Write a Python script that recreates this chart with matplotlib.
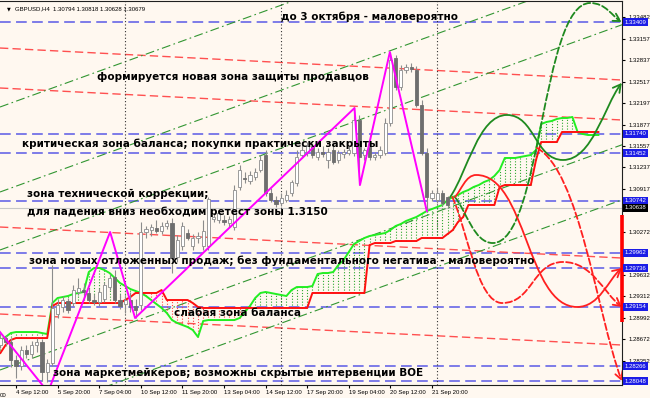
import numpy as np
import matplotlib
matplotlib.use('Agg')
import matplotlib.pyplot as plt
from matplotlib.path import Path
from matplotlib.patches import FancyArrowPatch

# GBPUSD H4, bar index 0 = 4 Sep 12:00
first_bar = -3
opens = [1.28586, 1.28690, 1.28631, 1.28362, 1.28273, 1.28511, 1.28452, 1.28586, 1.28631, 1.28183,
         1.28317, 1.29049, 1.29154, 1.29243, 1.29213, 1.29378, 1.29407, 1.29363, 1.29258, 1.29228,
         1.29273, 1.29452, 1.29602, 1.29258, 1.29198, 1.29258, 1.29169, 1.29183, 1.30274, 1.30303,
         1.30333, 1.30289, 1.30363, 1.30408, 1.29900, 1.30065, 1.30259, 1.30065, 1.30184, 1.30065,
         1.30065, 1.30468, 1.30453, 1.30453, 1.30408, 1.30348, 1.30946, 1.31080, 1.31035, 1.31095,
         1.31199, 1.31423, 1.30856, 1.30751, 1.30707, 1.30751, 1.30856, 1.31005, 1.31423, 1.31468,
         1.31558, 1.31394, 1.31468, 1.31349, 1.31498, 1.31349, 1.31438, 1.31453, 1.31453, 1.31946,
         1.31423, 1.31543, 1.31394, 1.31423, 1.31453, 1.31901, 1.32872, 1.32439, 1.32693, 1.32738,
         1.32693, 1.32170, 1.31453, 1.30781, 1.30751, 1.30856, 1.30794]
highs = [1.28765, 1.28735, 1.28690, 1.28437, 1.28571, 1.28586, 1.28646, 1.28690, 1.28676, 1.28377,
         1.29781, 1.29258, 1.29318, 1.29288, 1.29482, 1.29587, 1.29512, 1.29437, 1.29348, 1.29437,
         1.29527, 1.29646, 1.29706, 1.29348, 1.29318, 1.29378, 1.29273, 1.30423, 1.30363, 1.30393,
         1.30453, 1.30423, 1.30453, 1.30483, 1.30229, 1.30423, 1.30318, 1.30244, 1.30274, 1.30453,
         1.30796, 1.30557, 1.30602, 1.30527, 1.30513, 1.30975, 1.31274, 1.31170, 1.31185, 1.31229,
         1.31423, 1.31498, 1.30931, 1.30811, 1.30856, 1.30901, 1.31050, 1.31498, 1.31573, 1.31617,
         1.31603, 1.31528, 1.31558, 1.31528, 1.31558, 1.31498, 1.31513, 1.31558, 1.32140, 1.32021,
         1.31528, 1.31588, 1.31468, 1.31558, 1.31976, 1.32962, 1.32917, 1.32767, 1.32782, 1.32797,
         1.32752, 1.32245, 1.31528, 1.30901, 1.30931, 1.30901, 1.30818]
lows = [1.28541, 1.28571, 1.28258, 1.28093, 1.28213, 1.28392, 1.28392, 1.28482, 1.28049, 1.28034,
        1.28273, 1.28989, 1.29079, 1.29064, 1.29169, 1.29333, 1.29318, 1.29213, 1.29183, 1.29169,
        1.29228, 1.29407, 1.29213, 1.29124, 1.29064, 1.29079, 1.28989, 1.29109, 1.30184, 1.30214,
        1.30259, 1.30244, 1.30318, 1.29661, 1.29826, 1.30005, 1.30154, 1.30005, 1.30109, 1.30005,
        1.30005, 1.30423, 1.30408, 1.30378, 1.30348, 1.30303, 1.30901, 1.31005, 1.30990, 1.31050,
        1.31170, 1.30811, 1.30722, 1.30647, 1.30662, 1.30722, 1.30811, 1.30961, 1.31379, 1.31409,
        1.31379, 1.31349, 1.31394, 1.31229, 1.31289, 1.31304, 1.31379, 1.31423, 1.31409, 1.30975,
        1.31349, 1.31349, 1.31349, 1.31379, 1.31423, 1.31856, 1.32394, 1.32394, 1.32648, 1.32663,
        1.32140, 1.31423, 1.30572, 1.30737, 1.30707, 1.30662, 1.30628]
closes = [1.28690, 1.28631, 1.28362, 1.28273, 1.28511, 1.28452, 1.28586, 1.28631, 1.28183, 1.28317,
          1.29139, 1.29183, 1.29258, 1.29109, 1.29407, 1.29437, 1.29378, 1.29258, 1.29228, 1.29378,
          1.29482, 1.29587, 1.29258, 1.29169, 1.29258, 1.29154, 1.29109, 1.30274, 1.30318, 1.30348,
          1.30289, 1.30363, 1.30408, 1.29885, 1.30154, 1.30363, 1.30184, 1.30184, 1.30214, 1.30289,
          1.30766, 1.30498, 1.30557, 1.30423, 1.30468, 1.30901, 1.31199, 1.31065, 1.31125, 1.31170,
          1.31349, 1.30856, 1.30751, 1.30692, 1.30781, 1.30826, 1.31020, 1.31394, 1.31498, 1.31558,
          1.31423, 1.31468, 1.31438, 1.31468, 1.31319, 1.31453, 1.31468, 1.31498, 1.31946, 1.31394,
          1.31498, 1.31394, 1.31423, 1.31498, 1.31901, 1.32842, 1.32439, 1.32693, 1.32738, 1.32708,
          1.32170, 1.31453, 1.30796, 1.30856, 1.30856, 1.30707, 1.30679]

# ichimoku cloud lines (shifted forward), bars -3 .. 112
span_a = [1.28661, 1.28706, 1.28765, 1.28780, 1.28780, 1.28780, 1.28780, 1.28780, 1.28765, 1.28750,
          1.29213, 1.29288, 1.29303, 1.29318, 1.29348, 1.29363, 1.29378, 1.29676, 1.29736, 1.29736,
          1.29706, 1.29661, 1.29587, 1.29512, 1.29467, 1.29422, 1.29393, 1.29363, 1.29318, 1.29258,
          1.29198, 1.29139, 1.29064, 1.28959, 1.28915, 1.28885, 1.28855, 1.28810, 1.28706, 1.28945,
          1.28959, 1.28959, 1.28959, 1.28959, 1.28959, 1.28959, 1.28989, 1.29079, 1.29169, 1.29288,
          1.29363, 1.29378, 1.29363, 1.29348, 1.29333, 1.29318, 1.29407, 1.29452, 1.29452, 1.29452,
          1.29467, 1.29646, 1.29661, 1.29661, 1.29676, 1.29781, 1.29855, 1.29975, 1.30094, 1.30139,
          1.30184, 1.30214, 1.30229, 1.30244, 1.30259, 1.30303, 1.30363, 1.30393, 1.30438, 1.30468,
          1.30498, 1.30542, 1.30587, 1.30617, 1.30647, 1.30677, 1.30751, 1.30796, 1.30826, 1.30871,
          1.30901, 1.30946, 1.30975, 1.31020, 1.31050, 1.31110, 1.31199, 1.31379, 1.31379, 1.31379,
          1.31394, 1.31409, 1.31423, 1.31498, 1.31886, 1.31916, 1.31931, 1.31961, 1.31976, 1.31976,
          1.31991, 1.31767, 1.31737, 1.31722, 1.31722, 1.31722]
span_b = [1.28467, 1.28586, 1.28661, 1.28690, 1.28690, 1.28690, 1.28690, 1.28690, 1.28690, 1.28690,
          1.29169, 1.29213, 1.29213, 1.29213, 1.29213, 1.29213, 1.29213, 1.29213, 1.29213, 1.29213,
          1.29213, 1.29213, 1.29213, 1.29213, 1.29258, 1.29303, 1.29363, 1.29363, 1.29363, 1.29363,
          1.29363, 1.29407, 1.29258, 1.29258, 1.29258, 1.29258, 1.29258, 1.29213, 1.29154, 1.29139,
          1.29139, 1.29139, 1.29139, 1.29139, 1.29139, 1.29139, 1.29139, 1.29139, 1.29139, 1.29139,
          1.29139, 1.29139, 1.29139, 1.29139, 1.29139, 1.29139, 1.29139, 1.29139, 1.29139, 1.29139,
          1.29363, 1.29363, 1.29363, 1.29363, 1.29363, 1.29363, 1.29363, 1.29363, 1.29363, 1.29363,
          1.29363, 1.30079, 1.30109, 1.30109, 1.30109, 1.30109, 1.30139, 1.30139, 1.30139, 1.30139,
          1.30139, 1.30184, 1.30184, 1.30184, 1.30184, 1.30184, 1.30244, 1.30303, 1.30423, 1.30498,
          1.30677, 1.30677, 1.30677, 1.30677, 1.30677, 1.30677, 1.30946, 1.30975, 1.30975, 1.30975,
          1.30975, 1.30975, 1.30975, 1.31349, 1.31617, 1.31617, 1.31617, 1.31617, 1.31767, 1.31767,
          1.31767, 1.31767, 1.31767, 1.31767, 1.31767, 1.31767]

zigzag_bar = [-3.08, 6.15, 18.1, 22.9, 65.1, 66.15, 71.9, 79.0]
zigzag_price = [1.28780, 1.27884, 1.30274, 1.28989, 1.32125, 1.30975, 1.32961, 1.30587]

blue_levels = [1.33409, 1.31740, 1.31452, 1.30742, 1.29962, 1.29736, 1.29154, 1.28266, 1.28048]
bid_price = 1.30638

# sloping lines, price at left edge and at right edge of the chart
red_left = [1.33021, 1.32424, 1.30348, 1.29049]
red_right = [1.32543, 1.31946, 1.29885, 1.28586]
chan_left = [1.32140, 1.30871, 1.30005, 1.28213, 1.27392]
chan_right = [1.35503, 1.34234, 1.33368, 1.31576, 1.30754]

# forecast scenarios: key points (bar, price)
green_solid_bar = [83.5, 94.4, 105.2, 116.5]
green_solid_price = [1.30796, 1.32021, 1.31349, 1.32500]
green_dash_bar = [84.4, 91.7, 110.4, 116.5]
green_dash_price = [1.30796, 1.30109, 1.33693, 1.33409]
red_solid_bar = [84.4, 88.5, 107.9, 116.5]
red_solid_price = [1.30796, 1.31125, 1.29154, 1.29736]
red_dash_bar = [83.9, 93.5, 105.2, 116.5]
red_dash_price = [1.30796, 1.29213, 1.29826, 1.29154]
red_fall_bar = [100.2, 116.5]
red_fall_price = [1.31528, 1.28048]

separators = [21, 51, 81]
time_bars = [0, 8, 16, 24, 32, 40, 48, 56, 64, 72, 80]
time_labels = ['4 Sep 12:00', '5 Sep 20:00', '7 Sep 04:00', '10 Sep 12:00',
               '11 Sep 20:00', '13 Sep 04:00', '14 Sep 12:00', '17 Sep 20:00', '19 Sep 04:00',
               '20 Sep 12:00', '21 Sep 20:00']
price_ticks = [1.33482, 1.33157, 1.32837, 1.32517, 1.32197, 1.31877, 1.31557, 1.31237,
               1.30917, 1.30272, 1.29632, 1.29312, 1.28992, 1.28672, 1.28352]

notes = ['до 3 октября - маловероятно',
         'формируется новая зона защиты продавцов',
         'критическая зона баланса; покупки практически закрыты',
         'зона технической коррекции;',
         'для падения вниз необходим ретест зоны 1.3150',
         'зона новых отложенных продаж; без фундаментального негатива - маловероятно',
         'слабая зона баланса',
         'зона маркетмейкеров; возможны скрытые интервенции ВОЕ']
note_bar = [50.96, 15.58, 1.15, 2.12, 2.12, 2.5, 30.38, 7.12]
note_price = [1.33484, 1.32588, 1.31588, 1.30841, 1.30572, 1.29840, 1.29064, 1.28168]

x_left, x_right = -3.077, 116.54
bg = '#fff8f0'


def wave_path(bx, py):
    verts = [(bx[0], py[0])]
    codes = [Path.MOVETO]
    n = len(bx)
    for k in range(n - 1):
        x0, y0, x1, y1 = bx[k], py[k], bx[k + 1], py[k + 1]
        dx, dy = x1 - x0, y1 - y0
        if n == 2:
            c1 = (x0 + 0.5 * dx, y0 + 0.1 * dy)
        elif k == 0:
            c1 = (x0 + 0.3 * dx, y0 + 0.3 * dy)
        else:
            c1 = (x0 + 0.5 * dx, y0)
        if k == n - 2:
            c2 = (x1 - 0.3 * dx, y1 - 0.3 * dy)
        else:
            c2 = (x1 - 0.5 * dx, y1)
        verts += [c1, c2, (x1, y1)]
        codes += [Path.CURVE4] * 3
    return Path(verts, codes)


fig = plt.figure(figsize=(6.5, 3.98), dpi=100)
fig.patch.set_facecolor(bg)
ax = fig.add_axes([0, 13 / 398, 622 / 650, 384 / 398])
ax.set_facecolor(bg)
ax.set_xlim(x_left, x_right)
ax.set_ylim(1.27989, 1.33723)

# horizontal levels
for lv in blue_levels:
    ax.axhline(lv, color='#5a5ae6', lw=1.1, dashes=(7, 3.5), zorder=1)
ax.axhline(bid_price, color='#c8c8c8', lw=0.8, zorder=1)

for a, b in zip(red_left, red_right):
    ax.plot([x_left, x_right], [a, b], color='#ff5050', lw=1.0, dashes=(6, 3), zorder=1)
for a, b in zip(chan_left, chan_right):
    ax.plot([x_left, x_right], [a, b], color='#329632', lw=0.8, dashes=(8, 3, 1.5, 3), zorder=1)

for s in separators:
    ax.axvline(s, color='#303030', lw=0.8, ls=(0, (1, 2)), zorder=1)

# ichimoku cloud
cx = np.arange(first_bar, first_bar + len(span_a))
sa = np.array(span_a)
sb = np.array(span_b)
hatch_col = np.where(sa >= sb, '#2ea82e', '#ff4040')
ax.vlines(cx, np.minimum(sa, sb), np.maximum(sa, sb), colors=hatch_col,
          linestyles=(0, (1, 1.6)), lw=0.8, zorder=2)
ax.plot(cx, sa, color='#22ee22', lw=1.4, zorder=3)
ax.plot(cx, sb, color='#ff1010', lw=1.4, zorder=3)

# candles
bx = np.arange(first_bar, first_bar + len(opens))
o = np.array(opens)
c = np.array(closes)
bull = c >= o
ax.vlines(bx, lows, highs, color='#8c8c8c', lw=0.8, zorder=4)
body_lo = np.minimum(o, c)
body_h = np.maximum(np.abs(c - o), 0.00008)
ax.bar(bx, body_h, bottom=body_lo, width=0.62,
       color=np.where(bull, '#ffffff', '#6e6e6e'),
       edgecolor=np.where(bull, '#8c8c8c', '#6e6e6e'), linewidth=0.6, zorder=5)

ax.plot(zigzag_bar, zigzag_price, color='#ff00ff', lw=1.4, zorder=6)

# forecast scenarios
curves = [(green_solid_bar, green_solid_price, '#1f8a1f', '-'),
          (green_dash_bar, green_dash_price, '#1f8a1f', '--'),
          (red_solid_bar, red_solid_price, '#ff2020', '-'),
          (red_dash_bar, red_dash_price, '#ff2020', '--'),
          (red_fall_bar, red_fall_price, '#ff2020', '--')]
for cb, cp, col, st in curves:
    arr = FancyArrowPatch(path=wave_path(cb, cp), arrowstyle='->,head_length=0.45,head_width=0.25',
                          mutation_scale=12, color=col, lw=1.3, linestyle=st, zorder=7)
    ax.add_patch(arr)

ax.plot([x_right, x_right], [1.30527, 1.28930], color='#ff0000', lw=2.6,
        solid_capstyle='butt', clip_on=False, zorder=8)

for t, xb, yp in zip(notes, note_bar, note_price):
    ax.text(xb, yp, t, fontsize=7.45, fontweight='bold', color='#000000',
            ha='left', va='center', zorder=9)

# axes decoration
ax.spines['left'].set_visible(False)
for side in ['top', 'right', 'bottom']:
    ax.spines[side].set_color('#202020')
    ax.spines[side].set_linewidth(0.8)

ax.yaxis.tick_right()
ax.set_yticks(price_ticks)
ax.set_yticklabels([f'{v:.5f}' for v in price_ticks], family='Liberation Sans', fontsize=4.3)
ax.tick_params(axis='y', length=2, pad=3, colors='black')

ax.set_xticks(time_bars)
ax.set_xticklabels(time_labels, family='Liberation Sans', fontsize=4.3, ha='left')
ax.tick_params(axis='x', length=2, pad=1.5, colors='black')
# tail of the previous time label, visible at the left edge
ax.text(0.0, -0.028, '00', transform=ax.transAxes, family='Liberation Sans',
        fontsize=4.3, ha='left', va='center', clip_on=False)

for lv in blue_levels:
    ax.text(1.004, lv, f'{lv:.5f}', transform=ax.get_yaxis_transform(), family='Liberation Sans',
            fontsize=4.3, color='white', ha='left', va='center', clip_on=False, zorder=10,
            bbox=dict(boxstyle='square,pad=0.25', fc='#1c1ce6', ec='none'))
ax.text(1.004, bid_price, f'{bid_price:.5f}', transform=ax.get_yaxis_transform(),
        family='Liberation Sans', fontsize=4.3, color='white', ha='left', va='center',
        clip_on=False, zorder=10, bbox=dict(boxstyle='square,pad=0.25', fc='#000000', ec='none'))

ax.text(0.011, 0.98, '\u25bc', transform=ax.transAxes, fontsize=3.5, va='center', ha='left')
ax.text(0.024, 0.98, 'GBPUSD,H4  1.30794 1.30818 1.30628 1.30679', transform=ax.transAxes,
        family='Liberation Sans', fontsize=4.3, va='center', ha='left')

fig.savefig('out.png', dpi=100, facecolor=bg)
